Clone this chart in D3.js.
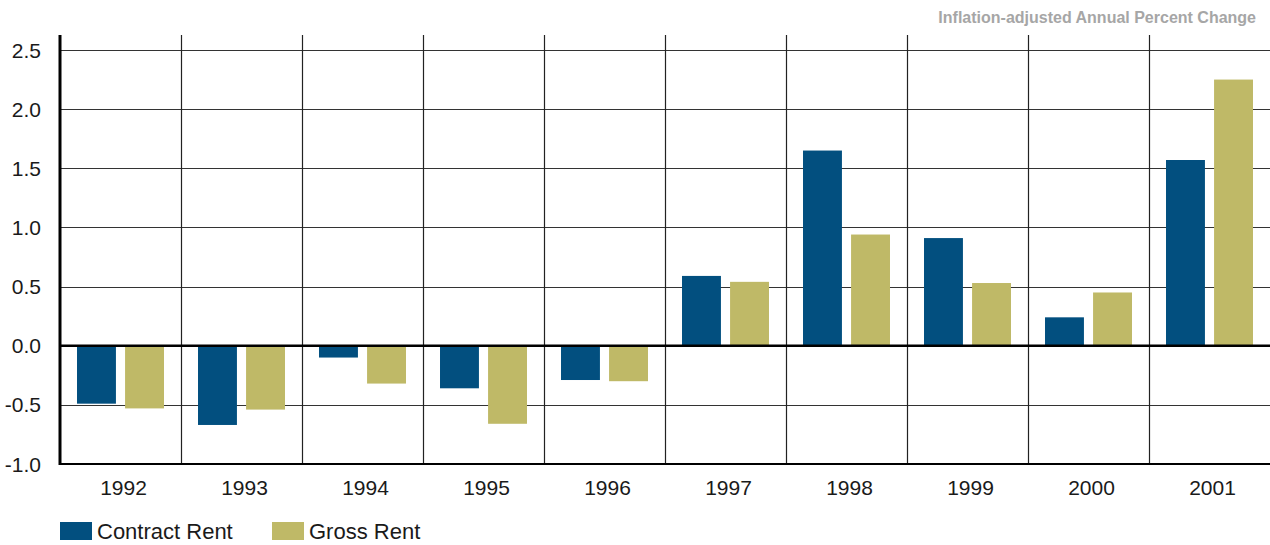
<!DOCTYPE html>
<html>
<head>
<meta charset="utf-8">
<script src="https://cdn.jsdelivr.net/npm/d3@7"></script>
<style>
  body { margin: 0; background: #fff; }
  svg { display: block; font-family: "Liberation Sans Narrow", "Arial Narrow", "Liberation Sans", sans-serif; }
</style>
</head>
<body>
<script>
'use strict';

// chart data
var years = ['1992', '1993', '1994', '1995', '1996', '1997', '1998', '1999', '2000', '2001'];
var contractRent = [-0.49, -0.67, -0.10, -0.36, -0.29, 0.59, 1.65, 0.91, 0.24, 1.57];
var grossRent = [-0.53, -0.54, -0.32, -0.66, -0.30, 0.54, 0.94, 0.53, 0.45, 2.25];
var yTicks = [-1.0, -0.5, 0.0, 0.5, 1.0, 1.5, 2.0, 2.5];
var seriesNames = ['Contract Rent', 'Gross Rent'];
var seriesColors = ['#024f7f', '#bfb967'];

var width = 1270;
var height = 545;
var margin = { top: 35, right: 0, bottom: 81, left: 60 };

var svg = d3.select('body').append('svg')
  .attr('width', width)
  .attr('height', height);

var x = d3.scaleBand()
  .domain(years)
  .range([margin.left, width - margin.right]);

//pair of bars inside each year band
var x1 = d3.scaleBand()
  .domain([0, 1])
  .range([0, x.bandwidth()])
  .paddingInner(0.19)
  .paddingOuter(0.354);

var y = d3.scaleLinear()
  .domain([-1.0, 2.5])
  .range([464, 50]);

var plotTop = margin.top;
var plotBottom = y(-1.0);

// horizontal grid lines
svg.append('g')
  .selectAll('line')
  .data(yTicks.filter(function(d) { return d !== 0 && d !== -1; }))
  .enter().append('line')
  .attr('x1', margin.left)
  .attr('x2', width)
  .attr('y1', function(d) { return Math.round(y(d)) + 0.5; })
  .attr('y2', function(d) { return Math.round(y(d)) + 0.5; })
  .attr('stroke', '#333')
  .attr('stroke-width', 1.2);

// vertical separators between years
svg.append('g')
  .selectAll('line')
  .data(years.slice(1))
  .enter().append('line')
  .attr('x1', function(d) { return Math.round(x(d)) + 0.5; })
  .attr('x2', function(d) { return Math.round(x(d)) + 0.5; })
  .attr('y1', plotTop)
  .attr('y2', plotBottom)
  .attr('stroke', '#222')
  .attr('stroke-width', 1.2);

// bars
var groups = svg.append('g')
  .selectAll('g')
  .data(years)
  .enter().append('g')
  .attr('transform', function(d) { return 'translate(' + x(d) + ',0)'; });

groups.selectAll('rect')
  .data(function(d, i) { return [contractRent[i], grossRent[i]]; })
  .enter().append('rect')
  .attr('x', function(d, j) { return x1(j); })
  .attr('width', x1.bandwidth())
  .attr('y', function(d) { return y(Math.max(0, d)); })
  .attr('height', function(d) { return Math.abs(y(d) - y(0)); })
  .attr('fill', function(d, j) { return seriesColors[j]; });

// zero line
svg.append('line')
  .attr('x1', margin.left)
  .attr('x2', width)
  .attr('y1', y(0))
  .attr('y2', y(0))
  .attr('stroke', '#000')
  .attr('stroke-width', 2.5);

// bottom line
svg.append('line')
  .attr('x1', margin.left)
  .attr('x2', width)
  .attr('y1', plotBottom)
  .attr('y2', plotBottom)
  .attr('stroke', '#000')
  .attr('stroke-width', 2);

// y axis line
svg.append('line')
  .attr('x1', margin.left)
  .attr('x2', margin.left)
  .attr('y1', plotTop)
  .attr('y2', plotBottom + 1)
  .attr('stroke', '#000')
  .attr('stroke-width', 3);

// y tick labels, plain hyphen for negatives like the source
var fmt = d3.format('.1f');
svg.append('g')
  .selectAll('text')
  .data(yTicks)
  .enter().append('text')
  .attr('x', 41)
  .attr('y', function(d) { return y(d); })
  .attr('dy', '0.36em')
  .attr('text-anchor', 'end')
  .style('font-size', '21px')
  .attr('fill', '#1a1a1a')
  .text(function(d) { return fmt(d).replace('\u2212', '-'); });

// x labels
svg.append('g')
  .selectAll('text')
  .data(years)
  .enter().append('text')
  .attr('x', function(d) { return x(d) + x.bandwidth() / 2 + 3; })
  .attr('y', 495)
  .attr('text-anchor', 'middle')
  .style('font-size', '21px')
  .attr('fill', '#1a1a1a')
  .text(function(d) { return d; });

// subtitle top right
svg.append('text')
  .attr('x', 1256)
  .attr('y', 23)
  .attr('text-anchor', 'end')
  .style('font-size', '16px')
  .style('font-weight', 'bold')
  .attr('fill', '#a6a6a6')
  .text('Inflation-adjusted Annual Percent Change');

// legend
var legendX = [60, 272];
var legend = svg.append('g')
  .selectAll('g')
  .data(seriesNames)
  .enter().append('g')
  .attr('transform', function(d, i) { return 'translate(' + legendX[i] + ',522)'; });

legend.append('rect')
  .attr('width', 32)
  .attr('height', 18)
  .attr('fill', function(d, i) { return seriesColors[i]; });

legend.append('text')
  .attr('x', 37)
  .attr('y', 17)
  .style('font-size', '22px')
  .attr('fill', '#1a1a1a')
  .text(function(d) { return d; });
</script>
</body>
</html>
